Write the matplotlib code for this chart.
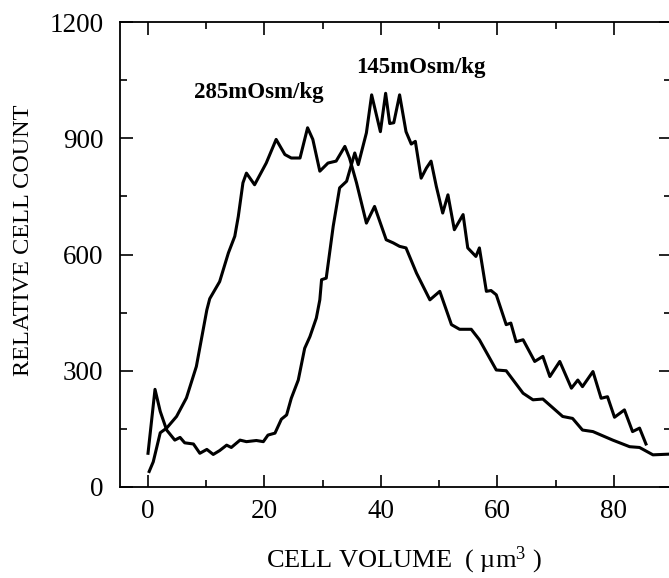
import matplotlib
matplotlib.use('Agg')
import matplotlib.pyplot as plt
from matplotlib.ticker import MultipleLocator

plt.rcParams['font.family'] = ['Liberation Serif', 'DejaVu Serif']
plt.rcParams['mathtext.fontset'] = 'custom'
plt.rcParams['mathtext.rm'] = 'Liberation Serif'
plt.rcParams['mathtext.it'] = 'Liberation Serif:italic'

# 285 mOsm/kg (isotonic) curve
vol_285 = [0.2, 0.9, 2.1, 3.2, 4.9, 6.6, 8.3, 10.1, 10.6, 12.3, 13.8, 14.9, 15.5, 16.3,
           16.9, 18.3, 20.3, 22.0, 23.5, 24.6, 26.1, 27.4, 28.3, 29.5, 30.9, 32.3, 33.8,
           34.6, 35.8, 37.5, 38.9, 40.9, 42.1, 43.2, 44.3, 46.1, 48.4, 50.1, 52.1, 53.5,
           55.5, 56.9, 59.8, 61.5, 64.4, 66.1, 67.8, 71.2, 72.9, 74.6, 76.4, 79.8, 82.7,
           84.4, 86.7, 89.8]
count_285 = [40, 65, 140, 152, 182, 230, 311, 457, 486, 530, 604, 647, 698, 785,
             810, 780, 836, 897, 858, 849, 849, 927, 897, 815, 836, 841, 879,
             849, 785, 681, 724, 638, 630, 621, 617, 552, 483, 505, 419, 407,
             407, 380, 302, 300, 242, 225, 227, 182, 177, 147, 143, 121, 104,
             102, 83, 85]

# 145 mOsm/kg (hypotonic) curve
vol_145 = [0.0, 1.2, 2.1, 3.2, 4.6, 5.5, 6.3, 7.8, 8.9, 10.1, 11.2, 12.3, 13.5, 14.3,
           15.8, 16.9, 18.6, 19.8, 20.6, 21.8, 22.9, 23.8, 24.6, 25.8, 26.9, 27.8, 28.9,
           29.5, 29.8, 30.6, 31.8, 32.9, 34.1, 35.5, 36.1, 37.5, 38.4, 39.9, 40.8, 41.5,
           42.2, 43.2, 44.3, 45.2, 45.9, 46.9, 47.8, 48.6, 49.5, 50.6, 51.5, 52.6, 54.1,
           54.9, 56.3, 56.9, 58.1, 58.9, 59.8, 61.5, 62.3, 63.2, 64.4, 66.4, 67.8, 69.0,
           70.7, 72.7, 73.8, 74.6, 76.4, 77.8, 78.9, 80.1, 81.8, 83.2, 84.4, 85.5]
count_145 = [87, 252, 195, 147, 121, 128, 114, 111, 87, 97, 84, 94, 108, 102,
             121, 117, 120, 117, 134, 139, 175, 186, 229, 276, 358, 388, 436,
             483, 535, 539, 673, 772, 789, 862, 832, 914, 1012, 917, 1016, 938,
             940, 1012, 917, 885, 892, 797, 823, 841, 776, 707, 754, 664, 703,
             617, 595, 617, 505, 507, 496, 419, 423, 375, 380, 324, 337, 285,
             324, 255, 276, 259, 298, 229, 233, 180, 199, 143, 152, 111]

x_ticks = [0, 20, 40, 60, 80]
y_ticks = [0, 300, 600, 900, 1200]

fig = plt.figure(figsize=(6.69, 5.78), dpi=100)
ax = fig.add_axes([120 / 669, 91 / 578, 551 / 669, 465 / 578])

ax.plot(vol_285, count_285, color='black', linewidth=2.2)
ax.plot(vol_145, count_145, color='black', linewidth=2.2)

ax.text(19.0, 1019, '285mOsm/kg', fontsize=16.5, fontweight='bold', ha='center', va='center')
ax.text(46.8, 1083, '145mOsm/kg', fontsize=16.5, fontweight='bold', ha='center', va='center')

ax.set_xlim(-4.81, 89.8)
ax.set_ylim(0, 1200)
ax.set_xticks(x_ticks)
ax.set_yticks(y_ticks)
ax.xaxis.set_minor_locator(MultipleLocator(10))
ax.yaxis.set_minor_locator(MultipleLocator(150))
ax.tick_params(which='both', direction='in', top=True, right=True, width=1.2,
               labelsize=19.5)
ax.tick_params(which='major', length=9)
ax.tick_params(which='minor', length=5)
ax.tick_params(axis='y', pad=12)
ax.tick_params(axis='x', pad=9)
for s in ax.spines.values():
    s.set_linewidth(1.3)

ax.set_xlabel('CELL VOLUME  ( µm$^3$ )', fontsize=19)
ax.set_ylabel('RELATIVE CELL COUNT', fontsize=17.5)
ax.xaxis.set_label_coords(0.515, -0.124)
ax.yaxis.set_label_coords(-0.156, 0.531)

fig.savefig('out.png', dpi=100)
